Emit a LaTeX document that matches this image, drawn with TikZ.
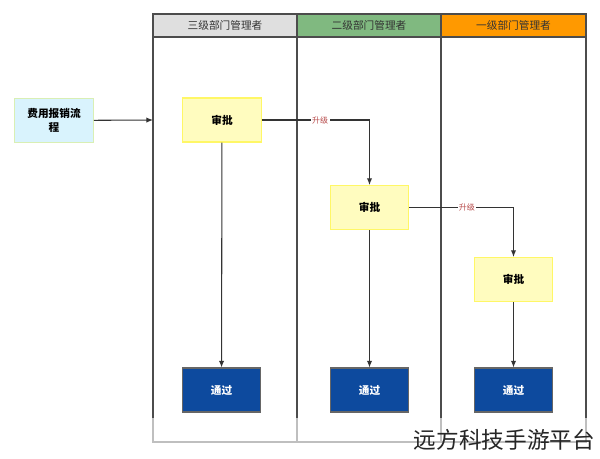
\documentclass[tikz,border=0pt]{standalone}
\usepackage{fontspec}
\newfontfamily\cjk{Noto Sans CJK SC}
\usetikzlibrary{arrows.meta}
\definecolor{passblue}{HTML}{0D4A9E}
\begin{document}
\begin{tikzpicture}[x=0.75pt,y=-0.75pt,font=\cjk,
  box/.style={draw=#1,line width=0.8pt,minimum width=59pt,minimum height=33pt,inner sep=0pt,font=\cjk\fontsize{8}{9}\selectfont\bfseries},
  approve/.style={box=yellow!60!white,fill=yellow!25!white},
  passbox/.style={box=black!60,fill=passblue,text=white},
  conn/.style={-{Latex[length=5pt,width=4pt]},line width=0.8pt,black!80},
  lbl/.style={font=\cjk\fontsize{6}{7}\selectfont,text=red!60!black!70,fill=white,inner sep=1pt},
  hdr/.style={font=\cjk\fontsize{8}{9}\selectfont,text=black!80}]
\useasboundingbox (0,0) rectangle (600,458);
\fill[white] (0,0) rectangle (600,458);
% lanes
\fill[gray!25] (153,14) rectangle (297,37);
\fill[green!45!black!50!white] (297,14) rectangle (441,37);
\fill[orange!80!yellow] (441,14) rectangle (586,37);
\draw[black!25,line width=0.8pt] (153,418) -- (153,442) -- (586,442) -- (586,418) (297,418) -- (297,442) (441,418)--(441,442);
\draw[black!70,line width=0.8pt] (153,418) -- (153,14) -- (586,14) -- (586,418) (297,14)--(297,418) (441,14)--(441,418) (153,37)--(586,37);
\node[hdr] (h1) at (225,25.5) {三级部门管理者};
\node[hdr] (h2) at (369,25.5) {二级部门管理者};
\node[hdr] (h3) at (513.5,25.5) {一级部门管理者};
\coordinate (lane1) at (153,120);
% nodes
\node[box=yellow!50!green!30!white,fill=cyan!15,align=center,font=\cjk\fontsize{8}{10}\selectfont\bfseries] (start) at (54,120.5) {费用报销流\\程};
\node[approve] (a1) at (222,120) {审批};
\node[approve] (a2) at (369.5,207.5) {审批};
\node[approve] (a3) at (513.5,279.5) {审批};
\node[passbox] (p1) at (221.5,390) {通过};
\node[passbox] (p2) at (369.5,390) {通过};
\node[passbox] (p3) at (513.5,390) {通过};
% connectors
\draw[conn] (a1.east) -| node[lbl,pos=0.5,xshift=-37pt] {升级} (a2.north);
\draw[conn] (a2.east) -| node[lbl,pos=0.5,xshift=-35pt] {升级} (a3.north);
\draw[conn] (start) -- (lane1);
\draw[conn] (a1) -- (p1);
\draw[conn] (a2) -- (p2);
\draw[conn] (a3) -- (p3);
\node[font=\cjk\fontsize{17}{20}\selectfont,text=black!85,anchor=east] (wm) at (600,440) {远方科技手游平台};
\end{tikzpicture}
\end{document}
